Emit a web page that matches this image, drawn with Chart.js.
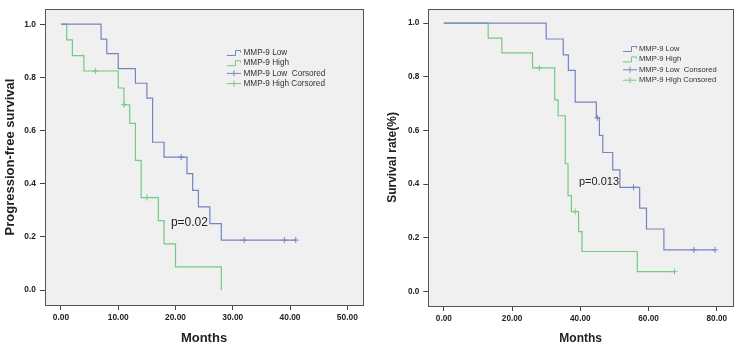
<!DOCTYPE html>
<html>
<head>
<meta charset="utf-8">
<script src="https://cdn.jsdelivr.net/npm/chart.js@4.4.1/dist/chart.umd.min.js"></script>
<style>
    html, body { margin: 0; padding: 0; background: #ffffff; }
    #wrap { position: relative; width: 738px; height: 345px; overflow: hidden; }
    canvas { position: absolute; top: 0; }
    #pfsChart { left: 0; }
    #osChart { left: 369px; }
</style>
</head>
<body>
<div id="wrap">
    <canvas id="pfsChart" width="369" height="345"></canvas>
    <canvas id="osChart" width="369" height="345"></canvas>
</div>
<script>
// left panel: progression-free survival
const pfsLowMonths = [0, 7, 8, 10, 13, 15, 16, 18, 22, 23, 24, 26, 28, 41];
const pfsLowSurv = [1, 0.944, 0.889, 0.833, 0.778, 0.722, 0.556, 0.5, 0.438, 0.375, 0.313, 0.25, 0.188, 0.188];
const pfsLowCensMonths = [21, 32, 39, 41];
const pfsLowCensSurv = [0.5, 0.188, 0.188, 0.188];
const pfsHighMonths = [0, 1, 2, 4, 10, 11, 12, 13, 14, 17, 18, 20, 28];
const pfsHighSurv = [1, 0.941, 0.882, 0.824, 0.760, 0.697, 0.627, 0.488, 0.348, 0.261, 0.174, 0.087, 0];
const pfsHighCensMonths = [6, 11, 15];
const pfsHighCensSurv = [0.824, 0.697, 0.348];
const pfsXTicks = [0, 10, 20, 30, 40, 50];
const pfsLegend = ["MMP-9 Low", "MMP-9 High", "MMP-9 Low  Corsored", "MMP-9 High Corsored"];

// right panel: overall survival
const osLowMonths = [0, 30, 35, 36.5, 38.5, 44.7, 45.6, 46.6, 49.5, 51.6, 57.4, 59.4, 64.5, 79.5];
const osLowSurv = [1, 0.941, 0.882, 0.824, 0.706, 0.647, 0.582, 0.518, 0.453, 0.388, 0.311, 0.233, 0.155, 0.155];
const osLowCensMonths = [45, 55.6, 73.3, 79.5];
const osLowCensSurv = [0.647, 0.388, 0.155, 0.155];
const osHighMonths = [0, 13, 17, 26, 32.5, 33.5, 35.6, 36.4, 37.4, 39.5, 40.5, 56.7, 67.6];
const osHighSurv = [1, 0.944, 0.889, 0.833, 0.714, 0.655, 0.476, 0.357, 0.298, 0.223, 0.149, 0.074, 0.074];
const osHighCensMonths = [28, 38.5, 67.6];
const osHighCensSurv = [0.833, 0.298, 0.074];
const osXTicks = [0, 20, 40, 60, 80];
const osLegend = ["MMP-9 Low", "MMP-9 High", "MMP-9 Low  Consored", "MMP-9 High Consored"];

const survTicks = [0, 0.2, 0.4, 0.6, 0.8, 1.0];

const BLUE = "#7683c4";
const GREEN = "#74ca82";
const FONT = "Arial, 'Liberation Sans', sans-serif";

function toPoints(xs, ys) {
    return xs.map(function (x, i) { return {x: x, y: ys[i]}; });
}

// grey plot box with dark frame, like SPSS
const boxPlugin = {
    id: "box",
    beforeDatasetsDraw: function (chart) {
        const a = chart.chartArea;
        const ctx = chart.ctx;
        ctx.save();
        ctx.fillStyle = "#f0f0f0";
        ctx.fillRect(a.left, a.top, a.right - a.left, a.bottom - a.top);
        ctx.restore();
    },
    afterDraw: function (chart) {
        const a = chart.chartArea;
        const ctx = chart.ctx;
        ctx.save();
        ctx.strokeStyle = "#555555";
        ctx.lineWidth = 1;
        ctx.strokeRect(Math.round(a.left) + 0.5, Math.round(a.top) + 0.5,
            Math.round(a.right - a.left), Math.round(a.bottom - a.top));
        ctx.restore();
    }
};

// legend + p value text
const notePlugin = {
    id: "note",
    afterDraw: function (chart, args, o) {
        const ctx = chart.ctx;
        ctx.save();
        ctx.font = o.legendSize + "px " + FONT;
        ctx.textBaseline = "middle";
        ctx.textAlign = "left";
        ctx.lineWidth = 1;
        const colors = [BLUE, GREEN, BLUE, GREEN];
        o.labels.forEach(function (text, i) {
            const x = o.legendX;
            const y = o.legendY + i * o.legendGap;
            ctx.strokeStyle = colors[i];
            ctx.beginPath();
            if (i < 2) {
                ctx.moveTo(x, y + 2.5);
                ctx.lineTo(x + 8.5, y + 2.5);
                ctx.lineTo(x + 8.5, y - 2.5);
                ctx.lineTo(x + 13.5, y - 2.5);
                ctx.lineTo(x + 13.5, y - 0.5);
            } else {
                ctx.moveTo(x, y);
                ctx.lineTo(x + 14, y);
                ctx.moveTo(x + 7, y - 3);
                ctx.lineTo(x + 7, y + 3);
            }
            ctx.stroke();
            ctx.fillStyle = "#333333";
            ctx.fillText(text, x + o.textGap, y);
        });
        // p value sits at a spot in data units
        const px = chart.scales.x.getPixelForValue(o.pAt[0]);
        const py = chart.scales.y.getPixelForValue(o.pAt[1]);
        ctx.font = o.pSize + "px " + FONT;
        ctx.fillStyle = "#222222";
        ctx.fillText(o.pText, px, py);
        ctx.restore();
    }
};

function drawKmChart(canvasId, opt) {
    const ctx = document.getElementById(canvasId).getContext("2d");
    const tickFont = {family: FONT, size: opt.tickSize, weight: "bold"};
    new Chart(ctx, {
        type: "line",
        data: {
            datasets: [
                {data: toPoints(opt.lowX, opt.lowY), borderColor: BLUE, borderWidth: 1.2, stepped: "before", pointRadius: 0, fill: false},
                {data: toPoints(opt.highX, opt.highY), borderColor: GREEN, borderWidth: 1.2, stepped: "before", pointRadius: 0, fill: false},
                {data: toPoints(opt.lowCensX, opt.lowCensY), showLine: false, pointStyle: "cross", pointRadius: 3, pointBorderColor: BLUE, pointBorderWidth: 1},
                {data: toPoints(opt.highCensX, opt.highCensY), showLine: false, pointStyle: "cross", pointRadius: 3, pointBorderColor: GREEN, pointBorderWidth: 1}
            ]
        },
        options: {
            responsive: false,
            animation: false,
            events: [],
            layout: {padding: opt.padding},
            plugins: {
                legend: {display: false},
                tooltip: {enabled: false},
                note: {
                    labels: opt.legend, legendX: opt.legendX, legendY: opt.legendY,
                    legendGap: opt.legendGap, legendSize: opt.legendSize, textGap: opt.textGap,
                    pText: opt.pText, pAt: opt.pAt, pSize: opt.pSize
                }
            },
            scales: {
                x: {
                    type: "linear",
                    min: opt.xMin,
                    max: opt.xMax,
                    afterBuildTicks: function (s) { s.ticks = opt.xTicks.map(function (v) { return {value: v}; }); },
                    afterFit: function (s) { s.height = opt.xAxisH; },
                    ticks: {
                        font: tickFont, color: "#222222", padding: 3, maxRotation: 0, autoSkip: false,
                        callback: function (v) { return Number(v).toFixed(2); }
                    },
                    grid: {display: true, drawOnChartArea: false, tickLength: 5, tickColor: "#444444", tickWidth: 1},
                    border: {display: false},
                    title: {
                        display: true, text: "Months", color: "#222222",
                        font: {family: FONT, size: opt.titleSize, weight: "bold", lineHeight: 1},
                        padding: {top: 0, bottom: 0}
                    }
                },
                y: {
                    type: "linear",
                    min: opt.yMin,
                    max: opt.yMax,
                    afterBuildTicks: function (s) { s.ticks = survTicks.map(function (v) { return {value: v}; }); },
                    afterFit: function (s) { s.width = opt.yAxisW; },
                    ticks: {
                        font: tickFont, color: "#222222", padding: 4,
                        callback: function (v) { return Number(v).toFixed(1); }
                    },
                    grid: {display: true, drawOnChartArea: false, tickLength: 5, tickColor: "#444444", tickWidth: 1},
                    border: {display: false},
                    title: {
                        display: true, text: opt.yTitle, color: "#222222",
                        font: {family: FONT, size: opt.titleSize, weight: "bold", lineHeight: 1},
                        padding: {top: opt.yTitlePad, bottom: 0}
                    }
                }
            }
        },
        plugins: [boxPlugin, notePlugin]
    });
}

drawKmChart("pfsChart", {
    lowX: pfsLowMonths, lowY: pfsLowSurv, highX: pfsHighMonths, highY: pfsHighSurv,
    lowCensX: pfsLowCensMonths, lowCensY: pfsLowCensSurv, highCensX: pfsHighCensMonths, highCensY: pfsHighCensSurv,
    xTicks: pfsXTicks, xMin: -2.79, xMax: 52.74, yMin: -0.056, yMax: 1.057,
    padding: {left: 0, right: 6, top: 7, bottom: 0}, yAxisW: 45, xAxisH: 40,
    tickSize: 8.4, titleSize: 13, yTitle: "Progression-free survival", yTitlePad: 3.5,
    legend: pfsLegend, legendX: 227, legendY: 53, legendGap: 10.2, legendSize: 8.2, textGap: 16.5,
    pText: "p=0.02", pAt: [19.2, 0.254], pSize: 12
});

drawKmChart("osChart", {
    lowX: osLowMonths, lowY: osLowSurv, highX: osHighMonths, highY: osHighSurv,
    lowCensX: osLowCensMonths, lowCensY: osLowCensSurv, highCensX: osHighCensMonths, highCensY: osHighCensSurv,
    xTicks: osXTicks, xMin: -4.55, xMax: 84.75, yMin: -0.054, yMax: 1.053,
    padding: {left: 0, right: 1.3, top: 5, bottom: 0}, yAxisW: 59.3, xAxisH: 39,
    tickSize: 8.2, titleSize: 12, yTitle: "Survival rate(%)", yTitlePad: 18,
    legend: osLegend, legendX: 254, legendY: 49, legendGap: 10.4, legendSize: 7.6, textGap: 16,
    pText: "p=0.013", pAt: [39.6, 0.409], pSize: 11
});
</script>
</body>
</html>
